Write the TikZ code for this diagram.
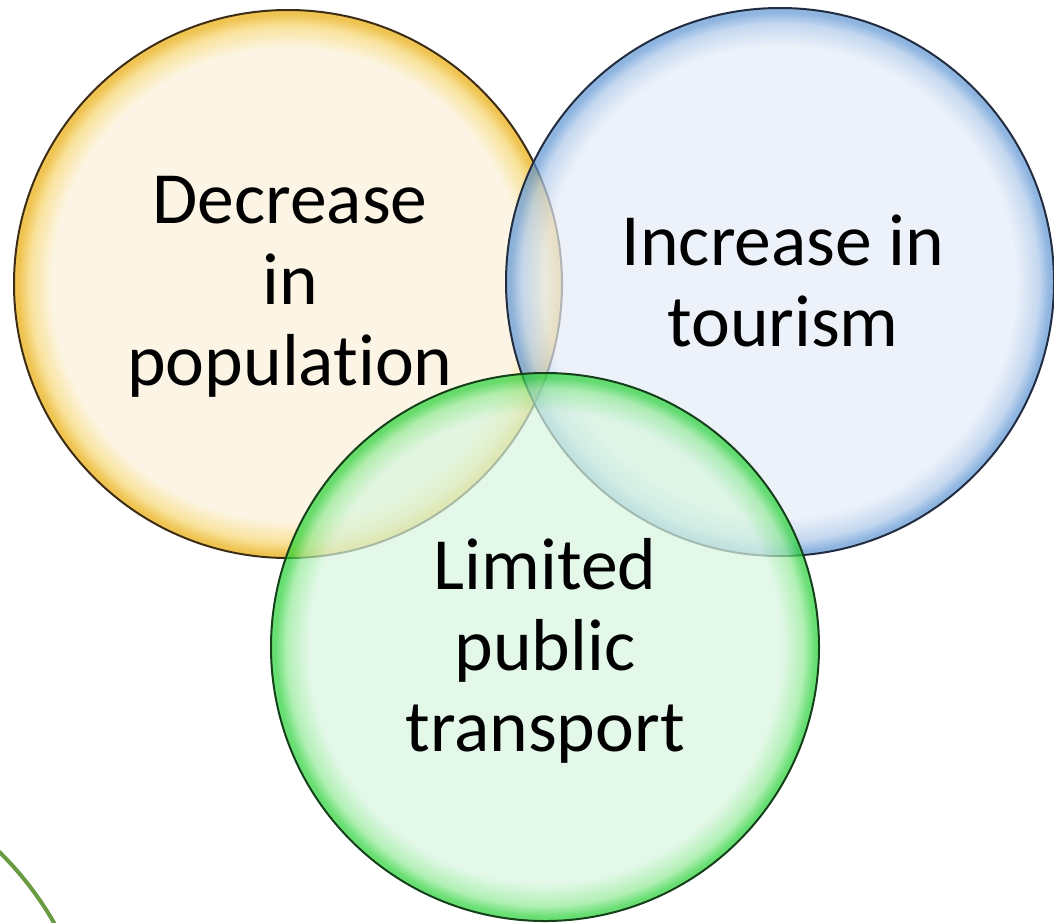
\documentclass[tikz,border=0pt]{standalone}
\usepackage{fontspec}
\setmainfont{Carlito}[Ligatures=NoCommon]
\definecolor{yIn}{RGB}{252,242,219}
\definecolor{yMid}{RGB}{246,214,110}
\definecolor{yEdge}{RGB}{234,172,10}
\definecolor{yLine}{RGB}{60,45,20}
\definecolor{bIn}{RGB}{229,236,248}
\definecolor{bMid}{RGB}{172,200,234}
\definecolor{bEdge}{RGB}{95,150,212}
\definecolor{bLine}{RGB}{35,45,65}
\definecolor{gIn}{RGB}{216,246,224}
\definecolor{gMid}{RGB}{145,234,150}
\definecolor{gEdge}{RGB}{40,210,55}
\definecolor{gLine}{RGB}{20,65,25}
\definecolor{arcGreen}{RGB}{105,155,65}
\pgfdeclareradialshading{yshade}{\pgfpoint{0bp}{0bp}}{color(0bp)=(yIn); color(21.5bp)=(yIn); color(23.6bp)=(yMid); color(24.6bp)=(yEdge); color(25bp)=(yEdge); color(50bp)=(yEdge)}
\pgfdeclareradialshading{bshade}{\pgfpoint{0bp}{0bp}}{color(0bp)=(bIn); color(21.5bp)=(bIn); color(23.6bp)=(bMid); color(24.6bp)=(bEdge); color(25bp)=(bEdge); color(50bp)=(bEdge)}
\pgfdeclareradialshading{gshade}{\pgfpoint{0bp}{0bp}}{color(0bp)=(gIn); color(21.5bp)=(gIn); color(23.6bp)=(gMid); color(24.6bp)=(gEdge); color(25bp)=(gEdge); color(50bp)=(gEdge)}
\tikzset{
  bubble/.style={fill opacity=0.7, draw opacity=1, line width=1pt},
  lbl/.style={anchor=base, inner sep=0pt, text=black,
    font=\fontsize{36.8}{40.5}\selectfont}
}
\begin{document}
\begin{tikzpicture}[x=0.5pt,y=-0.5pt]
\useasboundingbox (0,0) rectangle (1054,922);
\clip (0,0) rectangle (1054,922);
\fill[white] (0,0) rectangle (1054,922);
% partial arc of a further circle, bottom left
\draw[arcGreen, line width=2pt] (-230,1085) circle[radius=327];
% circles
\path[bubble, shading=yshade, draw=yLine] (288,284) circle[radius=274];
\path[bubble, shading=bshade, draw=bLine] (780,282) circle[radius=274];
\path[bubble, shading=gshade, draw=gLine] (545,647) circle[radius=274];
% labels
\node[lbl] (tpop) at (290,223) {\begin{tabular}[t]{@{}c@{}}Decrease\\in\\population\end{tabular}};
\node[lbl] (ttour) at (783,265) {\begin{tabular}[t]{@{}c@{}}Increase in\\tourism\end{tabular}};
\node[lbl] (ttrans) at (545,589) {\begin{tabular}[t]{@{}c@{}}Limited\\public\\transport\end{tabular}};
\end{tikzpicture}
\end{document}
